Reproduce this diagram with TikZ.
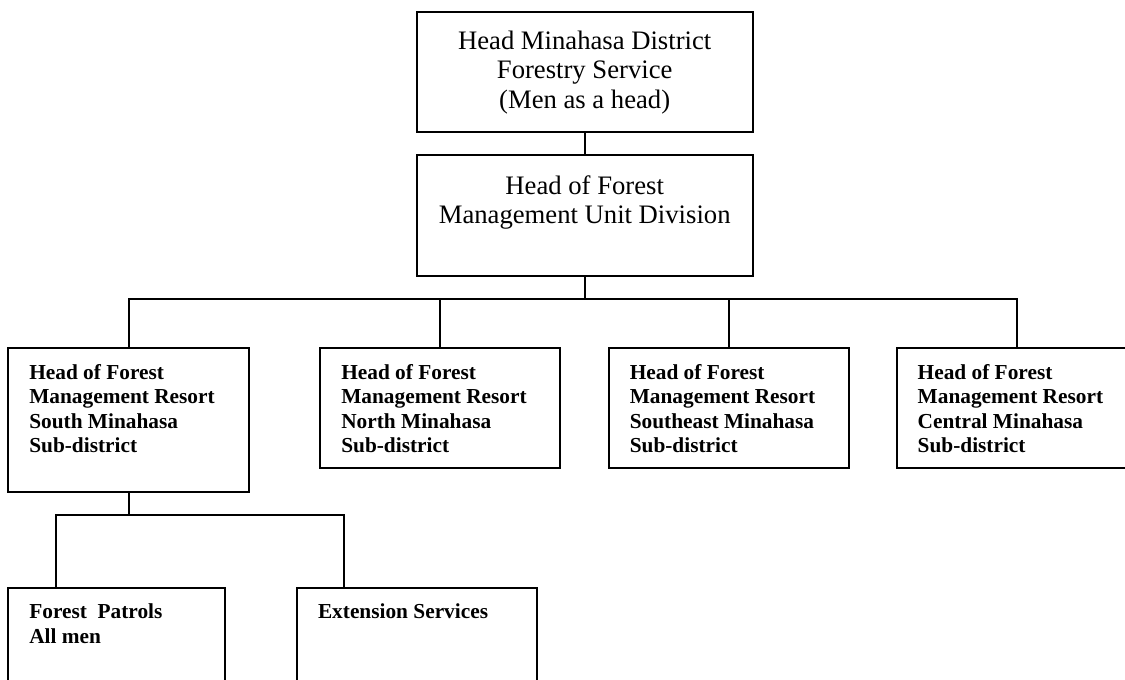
\documentclass[tikz,border=0pt]{standalone}
\usepackage{fontspec}
\setmainfont{Liberation Serif}
\usepackage{tikz}

\newcommand{\cellbox}[3]{\parbox[c][#2][t]{#1}{#3}}

\tikzset{
  headbox/.style={draw, line width=1.5pt, anchor=north west, inner xsep=6pt, inner ysep=14.5pt, font=\fontsize{20}{22}\selectfont},
  resortbox/.style={draw, line width=1.5pt, anchor=north west, inner xsep=15.75pt, inner ysep=12.25pt, font=\bfseries\fontsize{16}{18.4}\selectfont},
  link/.style={line width=1.5pt}
}

\begin{document}
\begin{tikzpicture}[x=0.75pt,y=0.75pt,yscale=-1,xscale=1]
        \useasboundingbox (0,0) rectangle (1125,679);
        \clip (0,0) rectangle (1125,679);

        %Shape: Rectangle [district]
        \node [headbox] (district) at (415.7,10.7) {\cellbox{240pt}{61pt}{\centering Head Minahasa District\\Forestry Service\\(Men as a head)}};
        %Shape: Rectangle [unit]
        \node [headbox, inner ysep=15pt] (unit) at (415.7,154.3) {\cellbox{240pt}{60.5pt}{\centering Head of Forest\\Management Unit Division}};

        %Shape: Rectangle [resorts]
        \node [resortbox] (south) at (7.3,346.7) {\cellbox{149.25pt}{83.5pt}{Head of Forest\\Management Resort\\South Minahasa\\Sub-district}};
        \node [resortbox] (north) at (319.3,346.7) {\cellbox{148.3pt}{65.5pt}{Head of Forest\\Management Resort\\North Minahasa\\Sub-district}};
        \node [resortbox] (southeast) at (607.8,346.7) {\cellbox{148.5pt}{65.5pt}{Head of Forest\\Management Resort\\Southeast Minahasa\\Sub-district}};
        \node [resortbox] (central) at (895.7,346.7) {\cellbox{148.5pt}{65.5pt}{Head of Forest\\Management Resort\\Central Minahasa\\Sub-district}};

        %Shape: Rectangle [south staff]
        \node [resortbox] (patrols) at (7.3,586.7) {\cellbox{130.8pt}{65.5pt}{Forest\ \ Patrols\\All men}};
        \node [resortbox] (extension) at (296,586.7) {\cellbox{148.8pt}{65.5pt}{Extension Services}};

        %Straight Lines
        \coordinate (bus) at (583.7,299);
        \coordinate (subL) at (56,515);
        \coordinate (subR) at (344,515);

        \draw [link] (district) -- (unit);
        \draw [link] (unit.south) -- (unit.south |- bus);
        \draw [link] (south.north) |- (bus) -| (central.north);
        \draw [link] (north.north) -- (north.north |- bus);
        \draw [link] (southeast.north) -- (southeast.north |- bus);

        \draw [link] (south.south) -- (south.south |- subL);
        \draw [link] (patrols.north -| subL) -- (subL) -- (subR) -- (extension.north -| subR);

\end{tikzpicture}
\end{document}
